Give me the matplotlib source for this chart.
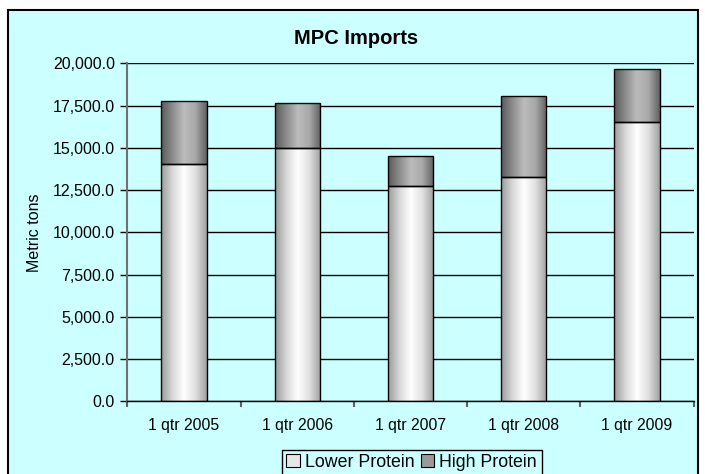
import numpy as np
import matplotlib
matplotlib.use("Agg")
import matplotlib.pyplot as plt
from matplotlib.patches import Rectangle, Patch
from matplotlib.colors import LinearSegmentedColormap

plt.rcParams['font.family'] = ['Liberation Sans', 'DejaVu Sans']

categories = ["1 qtr 2005", "1 qtr 2006", "1 qtr 2007", "1 qtr 2008", "1 qtr 2009"]
lower_protein = [14020, 14970, 12740, 13250, 16510]
high_protein_total = [17790, 17630, 14510, 18070, 19660]
high_protein = [t - l for t, l in zip(high_protein_total, lower_protein)]
series_names = ["Lower Protein", "High Protein"]
yticks = [0, 2500, 5000, 7500, 10000, 12500, 15000, 17500, 20000]

CYAN = "#CCFFFF"
W, H = 705, 474
fig = plt.figure(figsize=(W / 100, H / 100), dpi=100)
fig.patch.set_facecolor("white")

# outer chart frame
frame = Rectangle((8 / W, -0.05), (698 - 8) / W, 1.05 - 10 / H, transform=fig.transFigure,
                  facecolor=CYAN, edgecolor="black", linewidth=1.5, zorder=-5)
fig.patches.append(frame)

ax = fig.add_axes([127.3 / W, 1 - 401.3 / H, (693.5 - 127.3) / W, (401.3 - 63.3) / H])
ax.set_facecolor(CYAN)
ax.set_zorder(2)

x = np.arange(len(categories))
bw = 0.4
b1 = ax.bar(x, lower_protein, bw, color="#e8e8e8", edgecolor="black", linewidth=1.0, zorder=3)
b2 = ax.bar(x, high_protein, bw, bottom=lower_protein, color="#909090", edgecolor="black", linewidth=1.0, zorder=3)

cm_low = LinearSegmentedColormap.from_list("low", ["#9a9a9a", "#d8d8d8", "#ffffff", "#e0e0e0", "#a0a0a0"])
cm_high = LinearSegmentedColormap.from_list("high", ["#5a5a5a", "#8c8c8c", "#bcbcbc", "#a8a8a8", "#606060"])
grad = np.linspace(0, 1, 256).reshape(1, -1)
for bars, cm in ((b1, cm_low), (b2, cm_high)):
    for p in bars:
        x0, y0 = p.get_x(), p.get_y()
        im = ax.imshow(grad, extent=(x0, x0 + p.get_width(), y0, y0 + p.get_height()),
                       aspect="auto", cmap=cm, zorder=2.9, interpolation="bilinear")
        im.set_clip_path(p)
        p.set_facecolor("none")

ax.set_xlim(-0.5, len(categories) - 0.5)
ax.set_ylim(0, 20000)
ax.set_yticks(yticks)
ax.set_yticklabels([f"{v:,.1f}" for v in yticks], fontsize=11.5)
ax.yaxis.grid(True, color="black", linewidth=1.0, zorder=1)
ax.set_axisbelow(True)

ax.set_xticks(x)
ax.set_xticklabels(categories, fontsize=11.3)
ax.tick_params(axis="x", length=0, pad=12)
ax.set_xticks(np.arange(len(categories) + 1) - 0.5, minor=True)
ax.tick_params(axis="x", which="minor", length=4, color="#606060", width=1.5)
ax.tick_params(axis="y", length=5, color="black", width=1.0, pad=4)

for s in ("top", "right"):
    ax.spines[s].set_visible(False)
ax.spines["left"].set_color("#707070")
ax.spines["left"].set_linewidth(1.5)
ax.spines["bottom"].set_color("black")
ax.spines["bottom"].set_linewidth(1.0)
ax.spines["bottom"].set_zorder(4)

ax.set_ylabel("Metric tons", fontsize=11.5, labelpad=8)
fig.text(356 / W, 1 - 39 / H, "MPC Imports", ha="center", va="center",
         fontsize=14.5, fontweight="bold")

handles = [Patch(facecolor="#e6e6e6", edgecolor="black", linewidth=0.8),
           Patch(facecolor="#9a9a9a", edgecolor="black", linewidth=0.8)]
leg = fig.legend(handles, series_names, loc="upper right", bbox_to_anchor=(541.5 / W, 1 - 449.5 / H),
                 ncol=2, fontsize=12.8, frameon=True, fancybox=False, edgecolor="black",
                 facecolor=CYAN, framealpha=1, borderaxespad=0, handlelength=0.75,
                 handleheight=0.75, handletextpad=0.3, columnspacing=0.35, borderpad=0.25)
leg.get_frame().set_linewidth(1.0)
leg.set_zorder(5)

fig.savefig("out.png", dpi=100, facecolor=fig.get_facecolor())
